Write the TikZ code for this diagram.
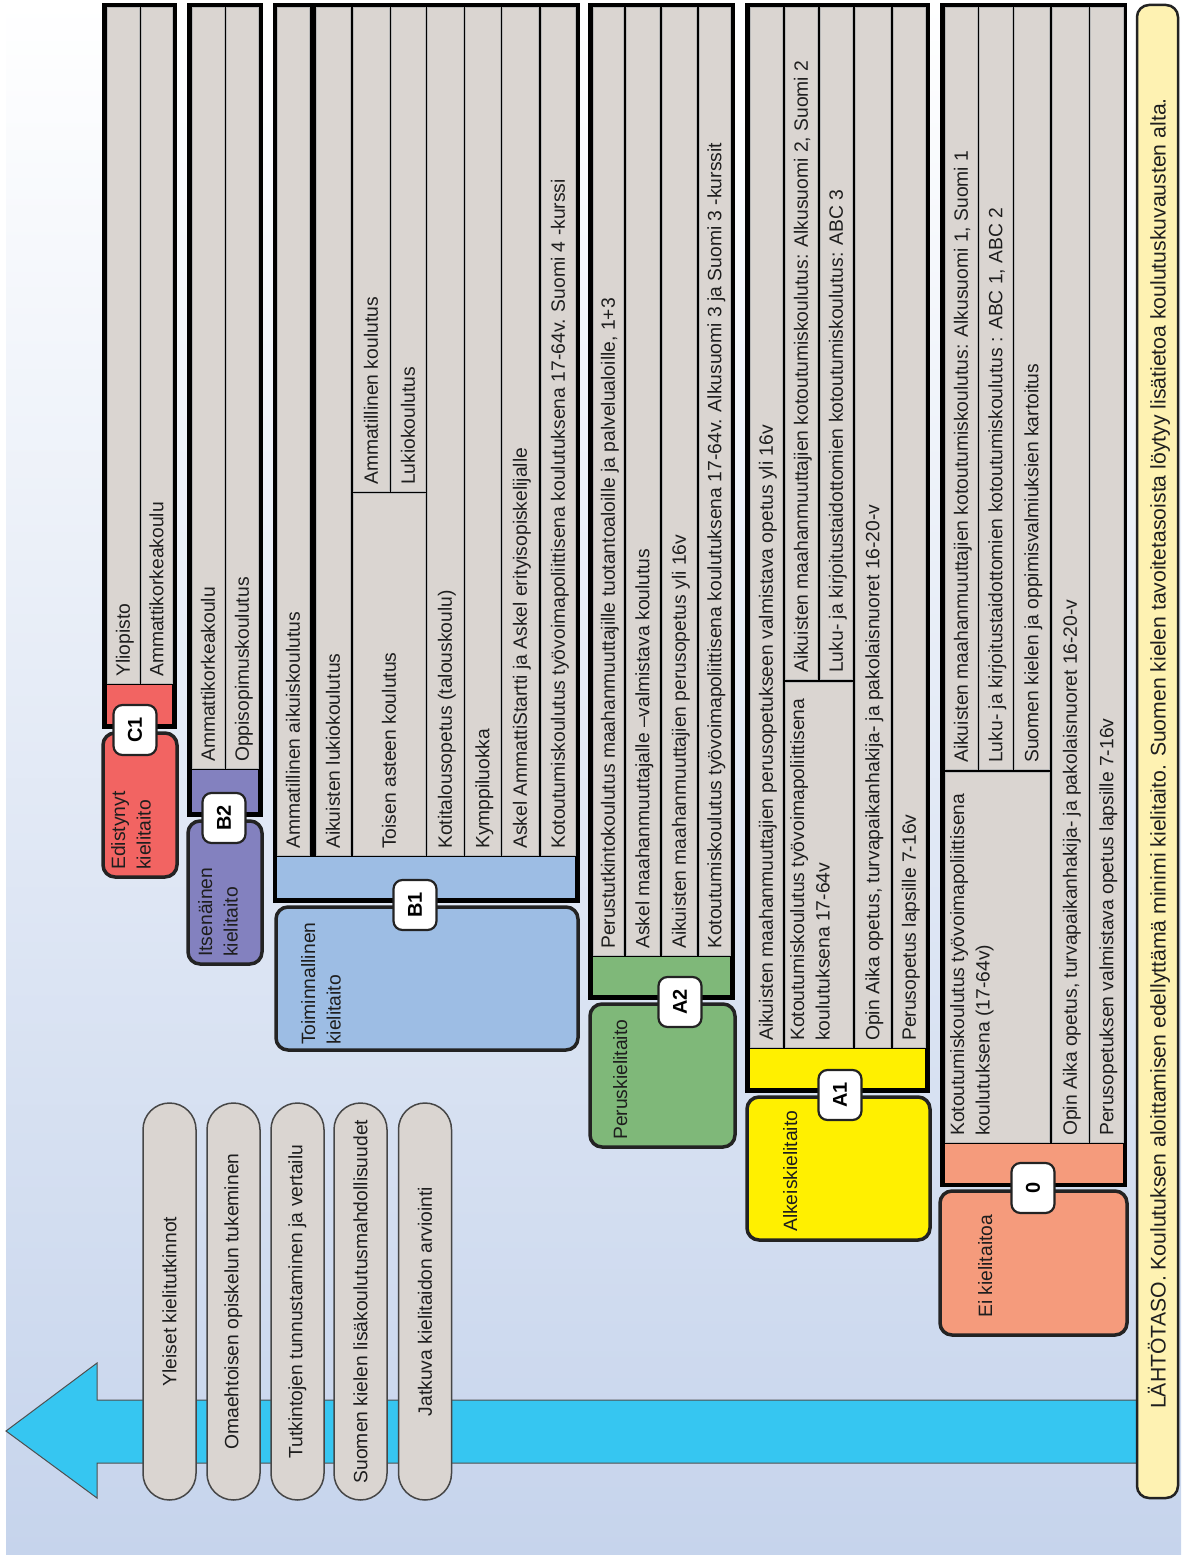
\documentclass[tikz,border=0pt]{standalone}
\usepackage{fontspec}
\setmainfont{Liberation Sans}
\usetikzlibrary{shapes.misc}
\definecolor{cellgray}{RGB}{218,213,209}
\definecolor{cone}{RGB}{242,100,98}
\definecolor{btwo}{RGB}{131,129,191}
\definecolor{bone}{RGB}{157,189,228}
\definecolor{atwo}{RGB}{127,184,121}
\definecolor{aone}{RGB}{255,240,0}
\definecolor{zerocol}{RGB}{245,155,124}
\definecolor{barfill}{RGB}{254,242,178}
\definecolor{arrowc}{RGB}{54,198,241}
\definecolor{bgblue}{RGB}{198,212,236}
\definecolor{edge}{RGB}{35,35,35}
\definecolor{pilledge}{RGB}{70,70,70}
\definecolor{inkc}{RGB}{30,30,30}
\newcommand\txt{\fontsize{19.3}{25.5}\selectfont}
\newcommand\mkcell[6]{%
  \fill[cellgray,draw=gray!55,line width=0.8pt] (#2,#3) rectangle (#4,#5);
  \node[celltext] (#1) at ({(#2+#4)/2},{#5-6}) {#6};}
\newcommand\mkcelltwo[6]{%
  \fill[cellgray,draw=gray!55,line width=0.8pt] (#2,#3) rectangle (#4,#5);
  \node[multitext] (#1) at ({#2+5},{#5-6}) {#6};}
\begin{document}
\begin{tikzpicture}[x=1pt,y=-1pt,
  celltext/.style={rotate=90,anchor=west,inner sep=0pt,font=\txt,text=inkc,text height=13.9pt,text depth=0pt},
  multitext/.style={rotate=90,anchor=north west,inner sep=0pt,font=\txt,text=inkc,align=left},
  badge/.style={rotate=90,draw=edge,line width=2.2pt,fill=white,rounded corners=9pt,minimum width=50pt,minimum height=43pt,inner sep=0pt,font=\fontsize{20}{20}\selectfont\bfseries},
  pill/.style={rounded rectangle,rotate=90,draw=pilledge,line width=1.5pt,fill=cellgray,minimum width=397pt,minimum height=53pt,inner sep=0pt,font=\txt,text=inkc},
  lvl/.style={draw=edge,line width=3.5pt,rounded corners=12pt}]
\useasboundingbox (0,0) rectangle (1181,1555);
\fill[white] (0,0) rectangle (1181,1555);
\shade[top color=white,bottom color=bgblue] (6,0) rectangle (1181,1555);
% arrow
\fill[arrowc,draw=edge!80,line width=1pt] (1140,1400) -- (97,1400) -- (97,1363) -- (6,1431) -- (97,1498) -- (97,1463) -- (1140,1463) -- cycle;
% pills
\node[pill] (p1) at (169.5,1301.5) {Yleiset kielitutkinnot};
\node[pill] (p2) at (233.5,1301.5) {Omaehtoisen opiskelun tukeminen};
\node[pill] (p3) at (297.5,1301.5) {Tutkintojen tunnustaminen ja vertailu};
\node[pill] (p4) at (360.5,1301.5) {Suomen kielen lisäkoulutusmahdollisuudet};
\node[pill] (p5) at (425,1301.5) {Jatkuva kielitaidon arviointi};
% bar
\draw[fill=barfill,draw=edge,line width=2.5pt,rounded corners=12pt] (1137,5) rectangle (1178,1498);
\node[celltext,font=\fontsize{21.2}{25}\selectfont,text height=15.2pt] (bartext) at (1158,1409) {LÄHTÖTASO. Koulutuksen aloittamisen edellyttämä minimi kielitaito. Suomen kielen tavoitetasoista löytyy lisätietoa koulutuskuvausten alta.};
% ---- C1
\fill[black] (102,3) rectangle (177,729);
\mkcell{c1a}{107}{7}{139}{683}{Yliopisto}
\mkcell{c1b}{141}{7}{172}{683}{Ammattikorkeakoulu}
\fill[cone] (107,685) rectangle (172,724);
\draw[lvl,fill=cone] (103,733) rectangle (177,877);
\node[badge] (bc1) at (135,730) {C1};
\node[multitext] (tc1) at (111,870) {Edistynyt\\kielitaito};
% ---- B2
\fill[black] (187,3) rectangle (263,817);
\mkcell{b2a}{192}{7}{224}{768}{Ammattikorkeakoulu}
\mkcell{b2b}{226}{7}{258}{768}{Oppisopimuskoulutus}
\fill[btwo] (192,770) rectangle (258,812);
\draw[lvl,fill=btwo] (188,821) rectangle (262,964);
\node[badge] (bb2) at (224,818) {B2};
\node[multitext] (tb2) at (198,957) {Itsenäinen\\kielitaito};
% ---- B1
\fill[black] (273,3) rectangle (580,903);
\mkcell{b1a}{277}{7}{309}{855}{Ammatillinen aikuiskoulutus}
\mkcell{b1b}{316}{7}{350}{855}{Aikuisten lukiokoulutus}
\mkcell{b1c}{353}{7}{389}{491}{Ammatillinen koulutus}
\mkcell{b1d}{391}{7}{425}{491}{Lukiokoulutus}
\mkcell{b1e}{353}{493}{425}{855}{Toisen asteen koulutus}
\mkcell{b1f}{427}{7}{463}{855}{Kotitalousopetus (talouskoulu)}
\mkcell{b1g}{465}{7}{500}{855}{Kymppiluokka}
\mkcell{b1h}{502}{7}{538}{855}{Askel AmmattiStartti ja Askel erityisopiskelijalle}
\mkcell{b1i}{541}{7}{575}{855}{Kotoutumiskoulutus työvoimapoliittisena koulutuksena 17-64v. Suomi 4 -kurssi}
\fill[bone] (277,857) rectangle (575,898);
\draw[lvl,fill=bone] (276,907) rectangle (578,1050);
\node[badge] (bb1) at (415,905) {B1};
\node[multitext] (tb1) at (301,1045) {Toiminnallinen\\kielitaito};
% ---- A2
\fill[black] (588,3) rectangle (735,1000);
\mkcell{a2a}{593}{7}{623}{955}{Perustutkintokoulutus maahanmuuttajille tuotantoaloille ja palvelualoille, 1+3}
\mkcell{a2b}{626}{7}{659}{955}{Askel maahanmuuttajalle –valmistava koulutus}
\mkcell{a2c}{662}{7}{696}{955}{Aikuisten maahanmuuttajien perusopetus yli 16v}
\mkcell{a2d}{699}{7}{730}{955}{Kotoutumiskoulutus työvoimapoliittisena koulutuksena 17-64v. Alkusuomi 3 ja Suomi 3 -kurssit}
\fill[atwo] (593,957) rectangle (730,995);
\draw[lvl,fill=atwo] (590,1004) rectangle (735,1147);
\node[badge] (ba2) at (680,1002) {A2};
\node[multitext] (ta2) at (613,1140) {Peruskielitaito};
% ---- A1
\fill[black] (745,3) rectangle (930,1093);
\mkcell{a1a}{750}{7}{782}{1047}{Aikuisten maahanmuuttajien perusopetukseen valmistava opetus yli 16v}
\mkcell{a1b}{785}{7}{817}{679}{Aikuisten maahanmuuttajien kotoutumiskoulutus: Alkusuomi 2, Suomi 2}
\mkcell{a1c}{820}{7}{852}{679}{Luku- ja kirjoitustaidottomien kotoutumiskoulutus: ABC 3}
\mkcelltwo{a1d}{785}{682}{852}{1047}{Kotoutumiskoulutus työvoimapoliittisena\\koulutuksena 17-64v}
\mkcell{a1e}{855}{7}{890}{1047}{Opin Aika opetus, turvapaikanhakija- ja pakolaisnuoret 16-20-v}
\mkcell{a1f}{893}{7}{925}{1047}{Perusopetus lapsille 7-16v}
\fill[aone] (750,1049) rectangle (925,1088);
\draw[lvl,fill=aone] (747,1097) rectangle (930,1240);
\node[badge] (ba1) at (840,1095) {A1};
\node[multitext] (ta1) at (783,1232) {Alkeiskielitaito};
% ---- 0
\fill[black] (940,3) rectangle (1127,1187);
\mkcell{z1}{945}{7}{977}{769}{Aikuisten maahanmuuttajien kotoutumiskoulutus: Alkusuomi 1, Suomi 1}
\mkcell{z2}{979}{7}{1012}{769}{Luku- ja kirjoitustaidottomien kotoutumiskoulutus : ABC 1, ABC 2}
\mkcell{z3}{1014}{7}{1049}{769}{Suomen kielen ja oppimisvalmiuksien kartoitus}
\mkcelltwo{z4}{945}{772}{1049}{1142}{Kotoutumiskoulutus työvoimapoliittisena\\koulutuksena (17-64v)}
\mkcell{z5}{1052}{7}{1088}{1142}{Opin Aika opetus, turvapaikanhakija- ja pakolaisnuoret 16-20-v}
\mkcell{z6}{1090}{7}{1123}{1142}{Perusopetuksen valmistava opetus lapsille 7-16v}
\fill[zerocol] (945,1144) rectangle (1123,1183);
\draw[lvl,fill=zerocol] (940,1191) rectangle (1127,1335);
\node[badge] (bz) at (1033,1188) {0};
\node[multitext] (tz) at (978,1318) {Ei kielitaitoa};
\end{tikzpicture}
\end{document}
